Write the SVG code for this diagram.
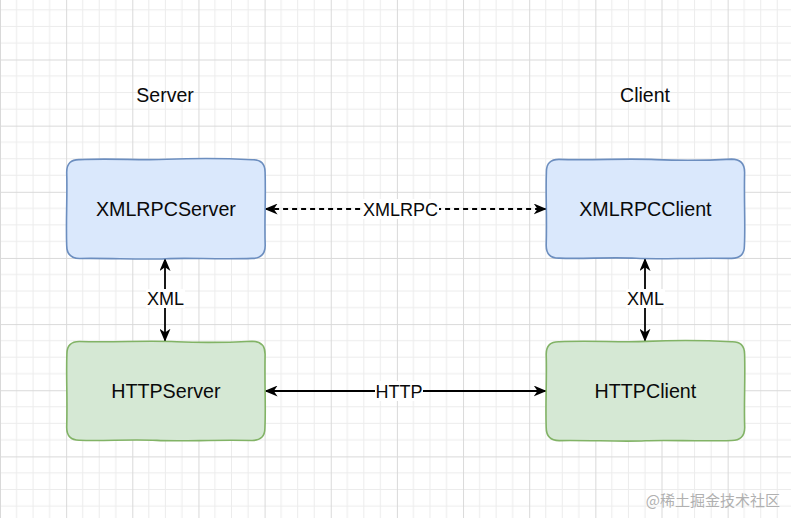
<svg xmlns="http://www.w3.org/2000/svg" xmlns:xlink="http://www.w3.org/1999/xlink" width="791" height="518" viewBox="0 0 791 518">
  <style>
    .lbl { font-family: "Liberation Sans", Arial, sans-serif; fill: #0a0a0a; text-anchor: middle; }
    .title { font-size: 19.5px; }
    .node { font-size: 19.7px; }
    .edge { font-size: 18px; }
    .blue { fill: #dae8fc; stroke: #6c8ebf; stroke-width: 1.6; }
    .green { fill: #d5e8d4; stroke: #82b366; stroke-width: 1.6; }
    .conn { fill: none; stroke: #000; stroke-width: 1.8; marker-start: url(#arr); marker-end: url(#arr); }
    .dash { stroke-dasharray: 5 4; }
    .bg { fill: #fff; }
    .wm { font-family: "Noto Sans CJK SC", "Liberation Sans", sans-serif; font-size: 15px; fill: #b0b0b0; }
  </style>
  <defs>
    <pattern id="grid" patternUnits="userSpaceOnUse" x="0" y="59.5" width="66.15" height="66.15">
      <path d="M16.54,0 V66.15 M33.08,0 V66.15 M49.61,0 V66.15 M0,16.54 H66.15 M0,33.08 H66.15 M0,49.61 H66.15" stroke="#ececec" stroke-width="1" fill="none"/>
      <path d="M0.5,0 V66.15 M0,0.5 H66.15" stroke="#d9d9d9" stroke-width="1" fill="none"/>
    </pattern>
    <path id="sk1" d="M13,0.4 C45,-1.2 72,1.3 100,0.1 S160,-0.9 185.4,0.5 Q198.4,0 198.4,13 C199.2,40 197.6,62 198.5,86.2 Q198.4,99.2 185.4,99.2 C150,100.3 122,98.4 99,99.5 S40,98.7 13,99.3 Q0,99.2 0,86.2 C-0.9,60 0.8,38 0,13 Q0,0 13,0.4 Z"/>
    <path id="sk2" d="M13,0.2 C50,1.1 80,-1 110,0.4 S165,1 185.4,-0.1 Q198.4,0 198.4,13 C197.7,45 199.3,65 198.2,86.2 Q198.4,99.2 185.4,99.2 C145,98.3 115,100.4 90,99.1 S35,99.9 13,98.9 Q0,99.2 0,86.2 C0.9,55 -0.7,35 0.2,13 Q0,0 13,0.2 Z"/>
    <marker id="arr" viewBox="0 0 13 11" refX="12.5" refY="5.5" markerWidth="13" markerHeight="11" markerUnits="userSpaceOnUse" orient="auto-start-reverse">
      <path d="M0,0 L13,5.5 L0,11 L3.8,5.5 Z" fill="#000"/>
    </marker>
  </defs>

  <rect x="0" y="0" width="791" height="518" fill="#fff"/>
  <rect x="0" y="0" width="791" height="518" fill="url(#grid)"/>

  <g id="label-server">
    <text class="lbl title" x="165" y="101.5">Server</text>
  </g>
  <g id="label-client">
    <text class="lbl title" x="645" y="101.5">Client</text>
  </g>

  <g id="connectors">
    <g id="edge-xmlrpc">
      <line class="conn dash" x1="265.1" y1="209" x2="546.2" y2="209"/>
      <rect class="bg" x="362" y="199" width="77" height="20"/>
      <text class="lbl edge" x="400.5" y="215.5">XMLRPC</text>
    </g>
    <g id="edge-http">
      <line class="conn" x1="265.1" y1="391" x2="546.2" y2="391"/>
      <rect class="bg" x="375" y="381" width="48" height="20"/>
      <text class="lbl edge" x="399" y="397.5">HTTP</text>
    </g>
    <g id="edge-xml-left">
      <line class="conn" x1="165" y1="258.5" x2="165" y2="341.2"/>
      <rect class="bg" x="146" y="289" width="39" height="19"/>
      <text class="lbl edge" x="165.5" y="305">XML</text>
    </g>
    <g id="edge-xml-right">
      <line class="conn" x1="645" y1="258.5" x2="645" y2="341.2"/>
      <rect class="bg" x="626" y="289" width="39" height="19"/>
      <text class="lbl edge" x="645.5" y="305">XML</text>
    </g>
  </g>

  <g id="node-xmlrpcserver">
    <use xlink:href="#sk1" href="#sk1" class="blue" x="66.7" y="159.2"/>
    <text class="lbl node" x="165.9" y="216">XMLRPCServer</text>
  </g>
  <g id="node-xmlrpcclient">
    <use xlink:href="#sk2" href="#sk2" class="blue" x="546.2" y="159.2"/>
    <text class="lbl node" x="645.4" y="216">XMLRPCClient</text>
  </g>
  <g id="node-httpserver">
    <use xlink:href="#sk2" href="#sk2" class="green" x="66.7" y="341.3"/>
    <text class="lbl node" x="165.9" y="398">HTTPServer</text>
  </g>
  <g id="node-httpclient">
    <use xlink:href="#sk1" href="#sk1" class="green" x="546.2" y="341.3"/>
    <text class="lbl node" x="645.4" y="398">HTTPClient</text>
  </g>

  <text class="wm" x="780" y="506" text-anchor="end">@稀土掘金技术社区</text>
</svg>
